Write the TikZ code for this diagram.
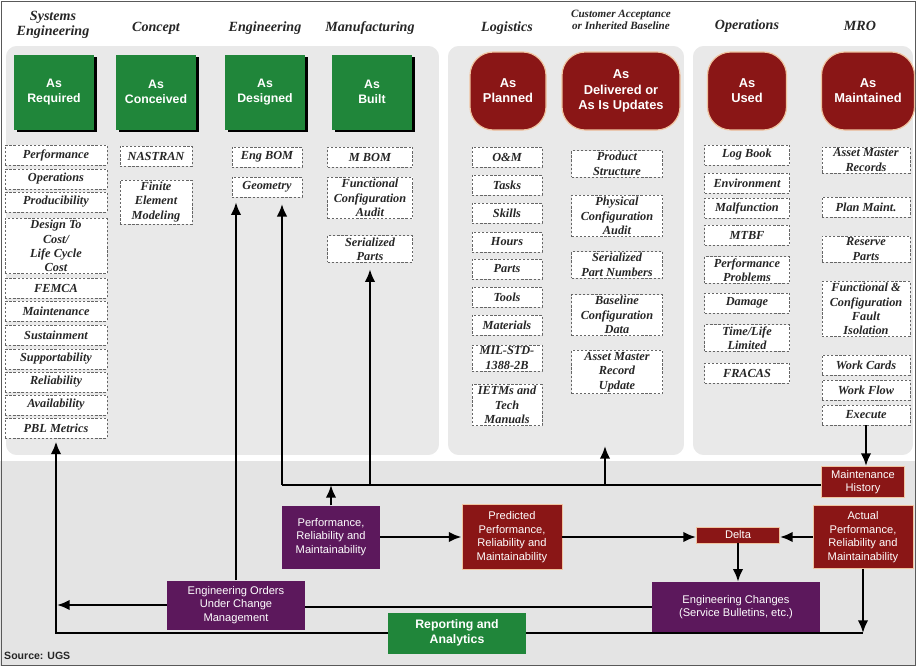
\documentclass[tikz,border=0pt]{standalone}
\usepackage{fontspec}
\setmainfont{Liberation Serif}
\setsansfont{Liberation Sans}
\usetikzlibrary{shadows,arrows.meta}
\definecolor{grnbox}{RGB}{32,134,58}
\definecolor{redbox}{RGB}{138,22,22}
\definecolor{purbox}{RGB}{92,24,92}
\definecolor{peach}{RGB}{240,196,160}
\definecolor{panelgray}{RGB}{233,233,233}
\definecolor{bandgray}{RGB}{228,228,228}

\begin{document}
\begin{tikzpicture}[x=0.03cm, y=-0.03cm,
	hdr/.style={font=\fontsize{12}{13}\selectfont\bfseries\itshape, align=center, text=black!85},
	asgrn/.style={fill=grnbox, text=white, font=\sffamily\bfseries\fontsize{10.5}{12.5}\selectfont, align=center, minimum width=2.4cm, minimum height=2.25cm, drop shadow={shadow xshift=2.5pt, shadow yshift=-2.5pt, opacity=1, fill=black}},
	asred/.style={fill=redbox, draw=peach, line width=1pt, rounded corners=0.7cm, text=white, font=\sffamily\bfseries\fontsize{11}{13}\selectfont, align=center, minimum height=2.34cm},
	item/.style={draw=black!60, dash pattern=on 2pt off 1.5pt, fill=white, font=\fontsize{10.5}{12.3}\selectfont\bfseries\itshape, text=black!85, align=center, inner sep=1.5pt, minimum height=0.6cm},
	flow/.style={text=white, font=\sffamily\fontsize{9.5}{11.5}\selectfont, align=center, inner sep=1pt},
	flowred/.style={flow, fill=redbox, draw=peach, line width=0.8pt},
	flowpur/.style={flow, fill=purbox},
	arr/.style={line width=2.1pt, -{Latex[length=3.8mm,width=3.2mm]}},
	ln/.style={line width=2.1pt}]
	\useasboundingbox (0,0) rectangle (916,666);
	\fill[white] (0,0) rectangle (916,666);
	\fill[bandgray] (0,460) rectangle (916,666);
	\draw[white, line width=2pt] (0,460) -- (916,460);
	\draw[white, line width=1.5pt, fill=panelgray, rounded corners=0.35cm] (5,45) rectangle (440,456);
	\draw[white, line width=1.5pt, fill=panelgray, rounded corners=0.35cm] (447,45) rectangle (685,456);
	\draw[white, line width=1.5pt, fill=panelgray, rounded corners=0.35cm] (692,45) rectangle (914,456);
	\draw[black!65, line width=0.8pt] (1,1) rectangle (915,665);

	\node[hdr] (hsys) at (53,25) {Systems\\Engineering};
	\node[hdr] (hcon) at (156,28) {Concept};
	\node[hdr] (heng) at (265,28) {Engineering};
	\node[hdr] (hman) at (370,28) {Manufacturing};
	\node[hdr] (hlog) at (507,28) {Logistics};
	\node[hdr, font=\fontsize{9.5}{10.5}\selectfont\bfseries\itshape] (hcust) at (621,20) {Customer Acceptance\\or Inherited Baseline};
	\node[hdr] (hops) at (747,26) {Operations};
	\node[hdr] (hmro) at (860,26) {MRO};

	\node[asgrn] (req) at (54,92) {As\\Required};
	\node[asgrn] (conc) at (156,92) {As\\Conceived};
	\node[asgrn] (des) at (265,92) {As\\Designed};
	\node[asgrn] (built) at (372,92) {As\\Built};
	\node[asred, minimum width=2.28cm] (plan) at (508,91) {As\\Planned};
	\node[asred, minimum width=3.54cm] (deliv) at (621,91) {As\\Delivered or\\As Is Updates};
	\node[asred, minimum width=2.37cm] (used) at (747,91) {As\\Used};
	\node[asred, minimum width=2.79cm] (maint) at (868,91) {As\\Maintained};

	\node[item, minimum width=3.06cm] (perf) at (56,155) {Performance};
	\node[item, minimum width=3.06cm] (oper) at (56,179) {Operations};
	\node[item, minimum width=3.06cm] (prod) at (56,202) {Producibility};
	\node[item, minimum width=3.06cm] (dtc) at (56,246) {Design To\\Cost/\\Life Cycle\\Cost};
	\node[item, minimum width=3.06cm] (fmeca) at (56,288) {FEMCA};
	\node[item, minimum width=3.06cm] (mtce) at (56,311) {Maintenance};
	\node[item, minimum width=3.06cm] (sust) at (56,335) {Sustainment};
	\node[item, minimum width=3.06cm] (supp) at (56,359) {Supportability};
	\node[item, minimum width=3.06cm] (reli) at (56,382) {Reliability};
	\node[item, minimum width=3.06cm] (avail) at (56,405) {Availability};
	\node[item, minimum width=3.06cm] (pbl) at (56,428) {PBL Metrics};

	\node[item, minimum width=2.16cm] (nastran) at (156,156) {NASTRAN};
	\node[item, minimum width=2.16cm] (fem) at (156,202) {Finite\\Element\\Modeling};

	\node[item, minimum width=2.1cm] (engbom) at (267,157) {Eng BOM};
	\node[item, minimum width=2.1cm] (geom) at (267,187) {Geometry};

	\node[item, minimum width=2.55cm] (mbom) at (370,157) {M BOM};
	\node[item, minimum width=2.55cm] (fca) at (370,198) {Functional\\Configuration\\Audit};
	\node[item, minimum width=2.55cm] (serp) at (370,249) {Serialized\\Parts};

	\node[item, minimum width=2.1cm] (om) at (507,157) {O\&M};
	\node[item, minimum width=2.1cm] (tasks) at (507,185) {Tasks};
	\node[item, minimum width=2.1cm] (skills) at (507,213) {Skills};
	\node[item, minimum width=2.1cm] (hours) at (507,242) {Hours};
	\node[item, minimum width=2.1cm] (parts) at (507,269) {Parts};
	\node[item, minimum width=2.1cm] (tools) at (507,297) {Tools};
	\node[item, minimum width=2.1cm] (mats) at (507,325) {Materials};
	\node[item, minimum width=2.1cm] (milstd) at (507,358) {MIL-STD-\\1388-2B};
	\node[item, minimum width=2.1cm] (ietm) at (507,405) {IETMs and\\Tech\\Manuals};

	\node[item, minimum width=2.73cm] (pstruct) at (617,164) {Product\\Structure};
	\node[item, minimum width=2.73cm] (pca) at (617,216) {Physical\\Configuration\\Audit};
	\node[item, minimum width=2.73cm] (spn) at (617,265) {Serialized\\Part Numbers};
	\node[item, minimum width=2.73cm] (bcd) at (617,315) {Baseline\\Configuration\\Data};
	\node[item, minimum width=2.73cm] (amru) at (617,372) {Asset Master\\Record\\Update};

	\node[item, minimum width=2.55cm] (logbk) at (747,155) {Log Book};
	\node[item, minimum width=2.55cm] (env) at (747,183) {Environment};
	\node[item, minimum width=2.55cm] (malf) at (747,208) {Malfunction};
	\node[item, minimum width=2.55cm] (mtbf) at (747,235) {MTBF};
	\node[item, minimum width=2.55cm] (pprob) at (747,270) {Performance\\Problems};
	\node[item, minimum width=2.55cm] (dmg) at (747,303) {Damage};
	\node[item, minimum width=2.55cm] (tll) at (747,338) {Time/Life\\Limited};
	\node[item, minimum width=2.55cm] (fracas) at (747,373) {FRACAS};

	\node[item, minimum width=2.64cm] (amr) at (866,160) {Asset Master\\Records};
	\node[item, minimum width=2.64cm] (planm) at (866,207) {Plan Maint.};
	\node[item, minimum width=2.64cm] (resp) at (866,249) {Reserve\\Parts};
	\node[item, minimum width=2.64cm] (fcfi) at (866,309) {Functional \&\\Configuration\\Fault\\Isolation};
	\node[item, minimum width=2.64cm] (wcards) at (866,365) {Work Cards};
	\node[item, minimum width=2.64cm] (wflow) at (866,390) {Work Flow};
	\node[item, minimum width=2.64cm] (exe) at (866,415) {Execute};

	\node[flowred, minimum width=2.49cm, minimum height=0.93cm] (mhist) at (863,482) {Maintenance\\History};
	\node[flowpur, minimum width=2.94cm, minimum height=1.89cm] (prm) at (331,537) {Performance,\\Reliability and\\Maintainability};
	\node[flowred, minimum width=3cm, minimum height=1.95cm] (pred) at (512,537) {Predicted\\Performance,\\Reliability and\\Maintainability};
	\node[flowred, minimum width=2.49cm, minimum height=0.48cm] (delta) at (738,535) {Delta};
	\node[flowred, minimum width=3cm, minimum height=1.89cm] (actual) at (863,537) {Actual\\Performance,\\Reliability and\\Maintainability};
	\node[flowpur, minimum width=5.04cm, minimum height=1.5cm] (engch) at (736,607) {Engineering Changes\\(Service Bulletins, etc.)};
	\node[flowpur, minimum width=4.14cm, minimum height=1.47cm] (engord) at (236,605) {Engineering Orders\\Under Change\\Management};
	\node[flow, fill=grnbox, font=\sffamily\bfseries\fontsize{10.5}{12.5}\selectfont, minimum width=4.14cm, minimum height=1.23cm] (report) at (457,633) {Reporting and\\Analytics};
	\node[anchor=west, font=\sffamily\bfseries\fontsize{9}{10}\selectfont, text=black!85, inner sep=0pt] (src) at (4,656) {Source: UGS};

	\coordinate (hL) at (282,485);
	\coordinate (midtip) at (605,446);
	\coordinate (eotip) at (57,605);

	\draw[arr] (exe.south) -- (exe.south |- mhist.north);
	\draw[ln] (hL -| mhist.west) -- (hL);
	\draw[arr, shorten >=2mm] (hL) -- (hL |- geom.south);
	\draw[arr] (serp.south |- hL) -- ([yshift=-2mm]serp.south);
	\draw[arr] (midtip |- hL) -- (midtip);
	\draw[arr] (prm.north) -- (prm.north |- hL);
	\draw[arr] (prm.east) -- (pred.west);
	\draw[arr] (pred.east) -- (pred.east -| delta.west);
	\draw[arr] (actual.west) -- (actual.west -| delta.east);
	\draw[arr] (delta.south) -- (delta.south |- engch.north);
	\draw[ln] (engch.west) -- (engch.west -| engord.east);
	\draw[arr] (engord.west) -- (eotip);
	\draw[arr, shorten >=1.5mm] (engord.north) -- (engord.north |- geom.south);
	\draw[arr, shorten >=1mm] (report.west) -| (pbl.south);
	\draw[ln] (report.east) -- (actual.south |- report.east);
	\draw[arr] (actual.south) -- (actual.south |- report.east);
\end{tikzpicture}
\end{document}
